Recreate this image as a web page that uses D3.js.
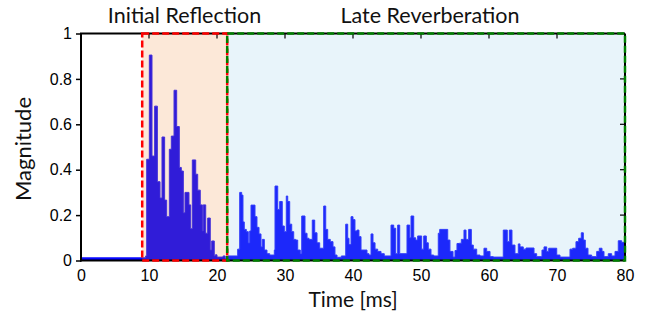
<!DOCTYPE html>
<html><head><meta charset="utf-8">
<script src="https://cdn.jsdelivr.net/npm/d3@7"></script>
<style>body{margin:0;background:#fff}</style>
</head><body><svg id="c" width="647" height="320"></svg>
<script>
const xTicks = [0,10,20,30,40,50,60,70,80];
const yTicks = [0,0.2,0.4,0.6,0.8,1];
const yTickLabels = ["0","0.2","0.4","0.6","0.8","1"];
const regionNames = ["Initial Reflection","Late Reverberation"];
const regionStart = [9, 21.5];
const regionEnd = [21.5, 80];
const xLabel = "Time [ms]";
const yLabel = "Magnitude";

// impulse-response envelope (time in ms, magnitude)
const times = [
 0, 9.5, 9.66, 10.05, 10.44, 10.83, 11.23, 11.62, 11.91, 12.30, 12.60, 12.99, 13.28, 13.68, 14.07,
 14.46, 14.75, 15.05, 15.29, 15.88, 16.13, 16.37, 16.87, 17.16, 17.54, 17.85, 17.97, 18.34, 18.63,
 19.01, 19.22, 19.60, 19.75, 20.0, 20.9, 21.2,
 21.62, 23.04, 23.34, 23.63, 23.82, 24.01, 24.31, 24.60, 24.81, 25.0, 25.59, 25.88, 26.18, 26.47,
 26.66, 26.96, 27.35, 27.75, 28.43, 28.53, 28.93, 29.22, 29.60, 29.90, 30.19, 30.40, 30.69, 30.99,
 31.28, 31.57, 31.87, 32.25, 32.46, 32.94, 33.24, 33.53, 34.01, 34.37, 34.71, 35.10, 35.69, 35.99,
 36.28, 36.66, 37.06, 37.35, 37.65, 38.28, 38.93, 39.22, 39.41, 39.71, 40.0, 40.29, 40.59, 40.88,
 41.18, 42.06, 42.35, 42.65, 42.94, 43.24, 43.63, 44.12, 44.60, 45.59, 45.99, 46.28, 46.57, 46.87,
 47.94, 48.34, 48.53, 48.93, 49.22, 49.51, 50.10, 50.40, 50.78, 51.07, 51.47, 51.87, 52.54, 52.75,
 53.93, 54.26, 54.71, 55.0, 55.29, 55.63, 55.93, 56.32, 56.62, 57.01, 57.40, 57.69, 58.19, 58.68,
 59.26, 59.66, 60.15, 60.63, 62.10, 62.69, 62.99, 63.38, 63.82, 64.31, 64.56, 65.04, 65.44, 66.62,
 67.01, 67.79, 68.09, 68.49, 68.78, 69.96, 70.44, 71.91, 72.31, 72.79, 73.19, 73.57, 73.87, 74.16,
 74.56, 75.10, 75.84, 76.22, 76.62, 76.91, 77.54, 78.04, 78.53, 79.01, 79.51, 80
];
const mags = [
 0.012, 0.02, 0.446, 0.905, 0.46, 0.68, 0.347, 0.275, 0.544, 0.266, 0.193, 0.49, 0.548, 0.75, 0.59,
 0.41, 0.394, 0.21, 0.30, 0.245, 0.14, 0.443, 0.38, 0.31, 0.245, 0.13, 0.245, 0.12, 0.187,
 0.046, 0.086, 0.02, 0.025, 0.015, 0.02, 0.01,
 0.02, 0.05, 0.30, 0.288, 0.17, 0.137, 0.127, 0.077, 0.13, 0.244, 0.193, 0.146, 0.117, 0.06,
 0.093, 0.046, 0.03, 0.024, 0.046, 0.328, 0.225, 0.26, 0.152, 0.127, 0.284, 0.26, 0.16, 0.127,
 0.093, 0.09, 0.046, 0.03, 0.196, 0.12, 0.098, 0.093, 0.178, 0.122, 0.078, 0.054, 0.24, 0.137,
 0.093, 0.083, 0.06, 0.024, 0.014, 0.02, 0.16, 0.098, 0.07, 0.193, 0.18, 0.13, 0.134, 0.105,
 0.046, 0.03, 0.024, 0.117, 0.078, 0.05, 0.04, 0.03, 0.02, 0.156, 0.142, 0.03, 0.156, 0.03,
 0.156, 0.1, 0.196, 0.1, 0.09, 0.108, 0.05, 0.108, 0.078, 0.05, 0.024, 0.02, 0.12, 0.137,
 0.09, 0.04, 0.015, 0.044, 0.075, 0.076, 0.093, 0.134, 0.093, 0.137, 0.068, 0.05, 0.024, 0.02,
 0.054, 0.04, 0.017, 0.015, 0.134, 0.083, 0.134, 0.068, 0.03, 0.073, 0.06, 0.05, 0.055, 0.03,
 0.017, 0.046, 0.06, 0.04, 0.054, 0.024, 0.015, 0.05, 0.054, 0.083, 0.098, 0.122, 0.09, 0.054,
 0.024, 0.017, 0.04, 0.054, 0.04, 0.017, 0.03, 0.02, 0.04, 0.087, 0.08, 0.08
];

const svg = d3.select("#c");
const L = 81, R = 625, T = 33.5, B = 260.5;
const x = d3.scaleLinear().domain([0,80]).range([L,R]);
const y = d3.scaleLinear().domain([0,1]).range([B,T]);
const data = times.map((t,i)=>({t, v:mags[i]}));
const titleFont = "Lato, 'Open Sans', sans-serif";
const tickFont = "'Liberation Sans', Arial, sans-serif";

// signal
svg.append("path").datum(data)
  .attr("d", d3.area().curve(d3.curveStepAfter).x(d=>x(d.t)).y0(y(0)).y1(d=>y(d.v)))
  .attr("fill","#0000ff").attr("stroke","#1a1aff").attr("stroke-width",1).attr("stroke-linejoin","round");

// translucent region overlays
const overlayCol = ["rgb(240,140,60)","rgb(140,200,230)"];
const borderCol = ["#ff0000","#008000"];
regionNames.forEach((n,i)=>{
  svg.append("rect").attr("x",x(regionStart[i])).attr("y",y(1))
    .attr("width",x(regionEnd[i])-x(regionStart[i])).attr("height",y(0)-y(1))
    .attr("fill",overlayCol[i]).attr("fill-opacity",0.2);
});

// axes box
const box = svg.append("g").attr("stroke","#000").attr("stroke-width",2);
box.append("line").attr("x1",L).attr("x2",L).attr("y1",T).attr("y2",B+1);
box.append("line").attr("x1",L-1).attr("x2",R).attr("y1",B).attr("y2",B);
box.append("line").attr("x1",L-1).attr("x2",R).attr("y1",T).attr("y2",T);
box.append("line").attr("x1",R).attr("x2",R).attr("y1",T).attr("y2",B);

// inner ticks top/right
const tk = svg.append("g").attr("stroke","#000").attr("stroke-width",1.2);
xTicks.slice(1,-1).forEach(t=>{
  tk.append("line").attr("x1",x(t)).attr("x2",x(t)).attr("y1",T).attr("y2",T+5);
});
yTicks.slice(1,-1).forEach(v=>{
  tk.append("line").attr("x1",R).attr("x2",R-5).attr("y1",y(v)).attr("y2",y(v));
});

// y axis
const ya = svg.append("g").attr("transform",`translate(${L},0)`)
  .call(d3.axisLeft(y).tickValues(yTicks).tickFormat((d,i)=>yTickLabels[i]).tickSize(5).tickPadding(4));
ya.select(".domain").remove();
ya.selectAll("line").attr("stroke","#000").attr("stroke-width",1.5);
ya.selectAll("text").attr("font-family",tickFont).attr("font-size","16px").attr("fill","#000");

// x axis
const xa = svg.append("g").attr("transform",`translate(0,${B})`)
  .call(d3.axisBottom(x).tickValues(xTicks).tickSize(0).tickPadding(9));
xa.select(".domain").remove();
xa.selectAll("text").attr("font-family",tickFont).attr("font-size","16px").attr("fill","#000");

// dashed region borders + titles
const titleX = [184.5, 430];
regionNames.forEach((n,i)=>{
  svg.append("rect").attr("x",x(regionStart[i])).attr("y",y(1))
    .attr("width",x(regionEnd[i])-x(regionStart[i])).attr("height",y(0)-y(1))
    .attr("fill","none").attr("stroke",borderCol[i]).attr("stroke-width",2.5)
    .attr("stroke-dasharray","7,3");
  svg.append("text").attr("x",titleX[i]).attr("y",23)
    .attr("text-anchor","middle").attr("font-family",titleFont)
    .attr("font-size","21.5px").attr("fill","#111").text(n);
});

// axis labels
svg.append("text").attr("x",353).attr("y",307).attr("text-anchor","middle")
  .attr("font-family",titleFont).attr("font-size","21px").attr("fill","#111").text(xLabel);
svg.append("text").attr("transform",`translate(31,${(T+B)/2 + 2}) rotate(-90)`).attr("text-anchor","middle")
  .attr("font-family",titleFont).attr("font-size","22px").attr("fill","#111").text(yLabel);
</script></body></html>
